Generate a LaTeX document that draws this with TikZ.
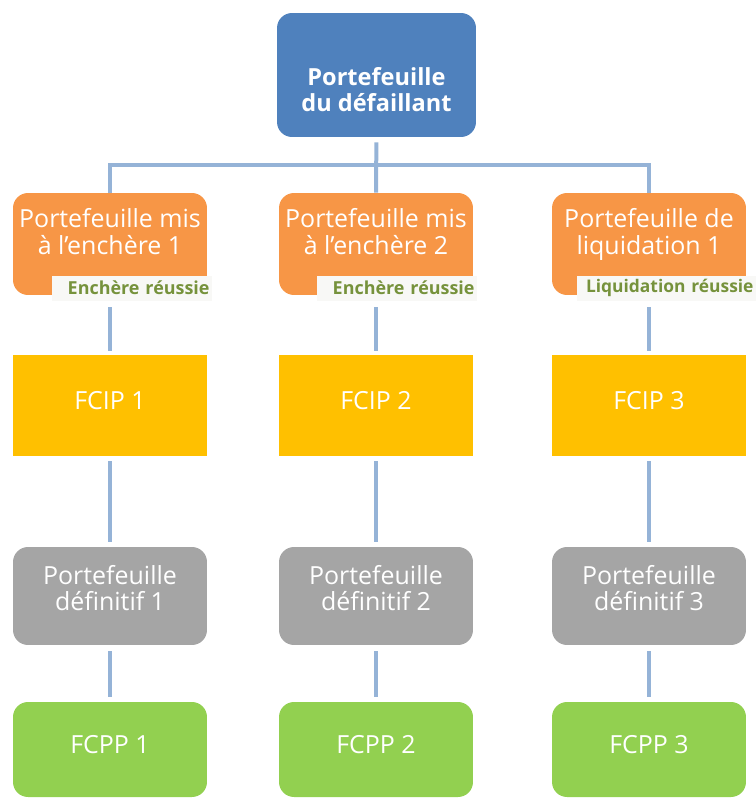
\documentclass[tikz,border=0pt]{standalone}
\usepackage{fontspec}
\setmainfont{Open Sans}
\usetikzlibrary{positioning}
\definecolor{topblue}{RGB}{79,129,189}
\definecolor{auction}{RGB}{247,150,70}
\definecolor{fcip}{RGB}{255,192,0}
\definecolor{finalgrey}{RGB}{165,165,165}
\definecolor{fcpp}{RGB}{146,208,80}
\definecolor{linkblue}{RGB}{149,179,215}
\definecolor{tagtext}{RGB}{118,146,60}
\definecolor{tagfill}{RGB}{248,248,246}

\begin{document}
\begin{tikzpicture}[x=0.02cm,y=-0.02cm,
  box/.style={inner sep=0pt,minimum width=3.88cm,align=center,text=white,font=\fontsize{14.2}{15}\selectfont},
  topbox/.style={box,fill=topblue,rounded corners=0.3cm,minimum width=3.98cm,minimum height=2.48cm,text height=1.47cm,font=\fontsize{13.4}{14.8}\selectfont\bfseries},
  sellbox/.style={box,fill=auction,rounded corners=0.3cm,minimum height=2.04cm,text depth=0.5cm},
  tagbox/.style={inner xsep=0.05cm,inner ysep=0pt,fill=tagfill,text=tagtext,text width=3.1cm,align=right,minimum height=0.5cm,font=\fontsize{10.2}{12}\selectfont\bfseries},
  fcipbox/.style={box,fill=fcip,minimum height=2.02cm,text depth=0.2cm},
  finalbox/.style={box,fill=finalgrey,rounded corners=0.3cm,minimum height=1.96cm,text depth=0.31cm},
  fcppbox/.style={box,fill=fcpp,rounded corners=0.3cm,minimum height=1.9cm,text depth=0.2cm},
  link/.style={draw=linkblue,line width=0.08cm}]
\useasboundingbox (0,0) rectangle (756,798);

% Defaulter portfolio
\node[topbox] (top) at (376.5,75) {Portefeuille\\du défaillant};

% Auction / liquidation portfolios
\node[sellbox] (sell1) at (110,244) {Portefeuille mis\\à l'enchère 1};
\node[sellbox] (sell2) at (376,244) {Portefeuille mis\\à l'enchère 2};
\node[sellbox] (sell3) at (649,244) {Portefeuille de\\liquidation 1};
\node[tagbox] (tag1) at (132,288) {Enchère réussie};
\node[tagbox] (tag2) at (397,288) {Enchère réussie};
\node[tagbox,text width=3.48cm,font=\fontsize{9.9}{12}\selectfont\bfseries] (tag3) at (666.5,288) {Liquidation réussie};

% FCIP
\node[fcipbox] (fcip1) at (110,405.5) {FCIP 1};
\node[fcipbox] (fcip2) at (376,405.5) {FCIP 2};
\node[fcipbox] (fcip3) at (649,405.5) {FCIP 3};

% Final portfolios
\node[finalbox] (final1) at (110,596) {Portefeuille\\définitif 1};
\node[finalbox] (final2) at (376,596) {Portefeuille\\définitif 2};
\node[finalbox] (final3) at (649,596) {Portefeuille\\définitif 3};

% FCPP
\node[fcppbox] (fcpp1) at (110,749.5) {FCPP 1};
\node[fcppbox] (fcpp2) at (376,749.5) {FCPP 2};
\node[fcppbox] (fcpp3) at (649,749.5) {FCPP 3};

% Links
\coordinate (split) at (376.5,165);
\draw[link,shorten <=0.1cm] (top) -- (sell2);
\draw[link] (sell1.north) |- (split) -| (sell3.north);
\draw[link,shorten <=0.24cm,shorten >=0.08cm] (sell1) -- (fcip1);
\draw[link,shorten <=0.24cm,shorten >=0.08cm] (sell2) -- (fcip2);
\draw[link,shorten <=0.24cm,shorten >=0.08cm] (sell3) -- (fcip3);
\draw[link,shorten <=0.1cm,shorten >=0.1cm] (fcip1) -- (final1);
\draw[link,shorten <=0.1cm,shorten >=0.1cm] (fcip2) -- (final2);
\draw[link,shorten <=0.1cm,shorten >=0.1cm] (fcip3) -- (final3);
\draw[link,shorten <=0.12cm,shorten >=0.1cm] (final1) -- (fcpp1);
\draw[link,shorten <=0.12cm,shorten >=0.1cm] (final2) -- (fcpp2);
\draw[link,shorten <=0.12cm,shorten >=0.1cm] (final3) -- (fcpp3);
\end{tikzpicture}
\end{document}
